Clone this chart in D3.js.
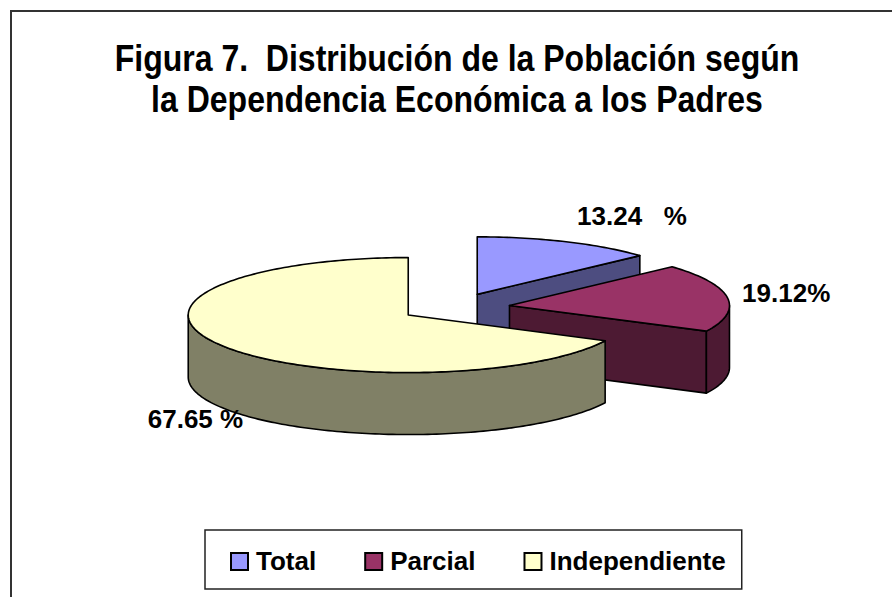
<!DOCTYPE html>
<html>
<head>
<meta charset="utf-8">
<script src="https://cdn.jsdelivr.net/npm/d3@7"></script>
<style>
  body { margin: 0; background: #fff; }
  svg { display: block; }
</style>
</head>
<body>
<div id="chart"></div>
<script>
// data
const categories = ['Total', 'Parcial', 'Independiente'];
const percents = [13.24, 19.12, 67.65];
const labelTexts = ['13.24   %', '19.12%', '67.65 %'];
const titleLines = [
    'Figura 7.  Distribución de la Población según',
    'la Dependencia Económica a los Padres'
];

const topColors = ['#9999ff', '#993366', '#ffffcc'];
const sideColors = ['#4d4d80', '#4d1a33', '#808066'];

const width = 892, height = 597;
const FONT = "'Liberation Sans', Arial, sans-serif";

// 3d pie geometry
const cx = 455, cy = 307.5, rx = 220, ry = 57.5, depth = 62, explode = 0.25;
const labelPad = 0.1;
const labelNudge = [[57, -20], [37, -4], [-7, 9]];

const svg = d3.select('#chart').append('svg')
    .attr('width', width)
    .attr('height', height);

svg.append('rect')
    .attr('x', 11).attr('y', 11)
    .attr('width', width).attr('height', height)
    .attr('fill', '#fff')
    .attr('stroke', '#333')
    .attr('stroke-width', 2);

// title, a bit condensed like the original
const titleG = svg.append('g')
    .attr('font-family', FONT)
    .attr('font-weight', 'bold')
    .attr('text-anchor', 'middle')
    .attr('fill', '#000');

titleLines.forEach((t, i) => {
    const el = titleG.append('text')
        .style('white-space', 'pre')
        .attr('x', 457)
        .attr('y', 71 + i * 41)
        .attr('font-size', 36)
        .text(t);
    const natural = el.node().getComputedTextLength();
    el.attr('textLength', natural * 32 / 36).attr('lengthAdjust', 'spacingAndGlyphs');
});

const arcs = d3.pie().sort(null).value(d => d)(percents);

const slices = arcs.map((d, i) => {
    const mid = (d.startAngle + d.endAngle) / 2;
    return {
        i,
        a0: d.startAngle,
        a1: d.endAngle,
        mid,
        ox: cx + explode * rx * Math.sin(mid),
        oy: cy - explode * ry * Math.cos(mid)
    };
});

const line = d3.line();

function pt(s, a, z = 0) {
    return [s.ox + rx * Math.sin(a), s.oy - ry * Math.cos(a) + z];
}

function rim(s, a0, a1, z = 0) {
    const n = Math.max(2, Math.ceil(Math.abs(a1 - a0) / 0.02));
    return d3.range(n + 1).map(k => pt(s, a0 + (a1 - a0) * k / n, z));
}

const pieG = svg.append('g')
    .attr('stroke', '#000')
    .attr('stroke-width', 1.6)
    .attr('stroke-linejoin', 'round');

// back to front
const order = slices.slice().sort((a, b) => -Math.cos(a.mid) - -Math.cos(b.mid));

order.forEach(s => {
    const g = pieG.append('g').attr('class', 'slice');

    // radial walls that face the viewer
    if (Math.sin(s.a0) < -1e-6) {
        g.append('path')
            .attr('d', line([[s.ox, s.oy], pt(s, s.a0), pt(s, s.a0, depth), [s.ox, s.oy + depth]]) + 'Z')
            .attr('fill', sideColors[s.i]);
    }
    if (Math.sin(s.a1) > 1e-6) {
        g.append('path')
            .attr('d', line([[s.ox, s.oy], pt(s, s.a1), pt(s, s.a1, depth), [s.ox, s.oy + depth]]) + 'Z')
            .attr('fill', sideColors[s.i]);
    }

    // outer wall, front half only
    const t0 = Math.max(s.a0, Math.PI / 2);
    const t1 = Math.min(s.a1, Math.PI * 3 / 2);
    if (t1 > t0) {
        g.append('path')
            .attr('d', line(rim(s, t0, t1).concat(rim(s, t1, t0, depth))) + 'Z')
            .attr('fill', sideColors[s.i]);
    }

    // top face
    g.append('path')
        .attr('d', line([[s.ox, s.oy]].concat(rim(s, s.a0, s.a1))) + 'Z')
        .attr('fill', topColors[s.i]);
});

// data labels
svg.append('g')
    .attr('font-family', FONT)
    .attr('font-weight', 'bold')
    .attr('font-size', 26)
    .attr('text-anchor', 'middle')
    .attr('dominant-baseline', 'central')
    .selectAll('text')
    .data(slices)
    .enter().append('text')
    .style('white-space', 'pre')
    .attr('x', s => s.ox + (1 + labelPad) * rx * Math.sin(s.mid) + labelNudge[s.i][0])
    .attr('y', s => s.oy - (1 + labelPad) * ry * Math.cos(s.mid)
        + (Math.cos(s.mid) < 0 ? depth : 0) + labelNudge[s.i][1])
    .text(s => labelTexts[s.i]);

// legend
const legend = svg.append('g')
    .attr('font-family', FONT)
    .attr('font-weight', 'bold')
    .attr('font-size', 26);

const legendBox = legend.append('rect')
    .attr('fill', '#fff')
    .attr('stroke', '#222')
    .attr('stroke-width', 1.5);

const boxX = 205, boxY = 530, boxH = 59;
const sw = 17, itemGap = 49, padL = 26, padR = 16;
let lx = boxX + padL;
categories.forEach((c, i) => {
    const item = legend.append('g');
    item.append('rect')
        .attr('x', lx).attr('y', 553)
        .attr('width', sw).attr('height', sw)
        .attr('fill', topColors[i])
        .attr('stroke', '#000')
        .attr('stroke-width', 2);
    const txt = item.append('text')
        .attr('x', lx + sw + 8)
        .attr('y', 570)
        .text(c);
    lx = lx + sw + 8 + txt.node().getComputedTextLength() + itemGap;
});
const lastEnd = lx - itemGap;

legendBox
    .attr('x', boxX).attr('y', boxY)
    .attr('width', lastEnd + padR - boxX)
    .attr('height', boxH);
</script>
</body>
</html>
